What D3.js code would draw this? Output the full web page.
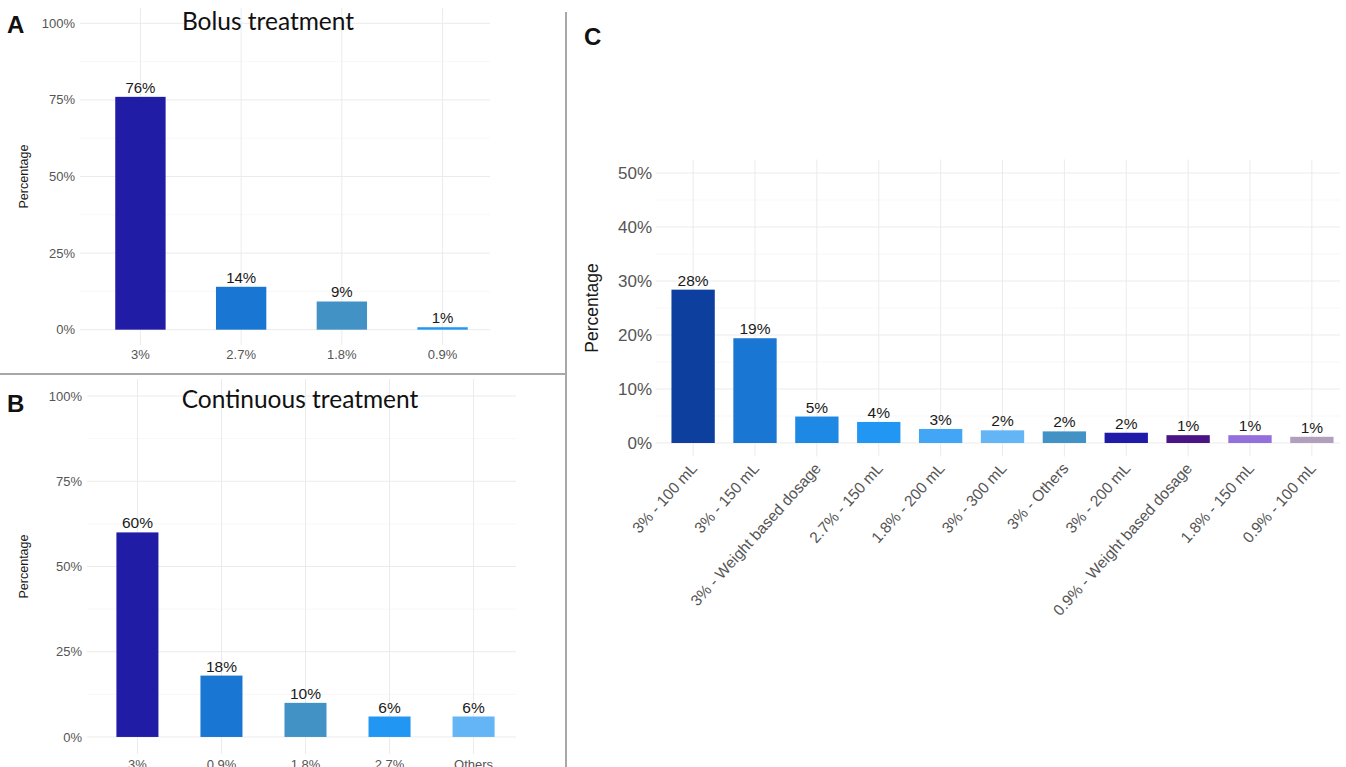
<!DOCTYPE html>
<html>
<head>
<meta charset="utf-8">
<script src="https://cdn.jsdelivr.net/npm/d3@7"></script>
<style>
  body { margin: 0; background: #fff; }
  svg { display: block; font-family: "Liberation Sans", Arial, sans-serif; }
</style>
</head>
<body>
<div id="chart"></div>
<script>
// ---- data ----
const bolusCats = ["3%", "2.7%", "1.8%", "0.9%"];
const bolusVals = [76, 14, 9.2, 0.8];
const bolusColors = ["#211ca6", "#1976d2", "#4292c6", "#2196f3"];

const contCats = ["3%", "0.9%", "1.8%", "2.7%", "Others"];
const contVals = [60, 18, 10, 6, 6];
const contColors = ["#211ca6", "#1976d2", "#4292c6", "#2196f3", "#64b5f6"];

const volCats = ["3% - 100 mL", "3% - 150 mL", "3% - Weight based dosage", "2.7% - 150 mL",
  "1.8% - 200 mL", "3% - 300 mL", "3% - Others", "3% - 200 mL",
  "0.9% - Weight based dosage", "1.8% - 150 mL", "0.9% - 100 mL"];
const volVals = [28.4, 19.4, 4.9, 3.9, 2.6, 2.35, 2.15, 1.9, 1.45, 1.45, 1.15];
const volColors = ["#0d3f9f", "#1976d2", "#1e88e5", "#2196f3", "#42a5f5", "#64b5f6",
  "#4292c6", "#1f1aa8", "#4a1486", "#9370db", "#b0a0be"];

const ticksAB = [0, 25, 50, 75, 100];
const minorAB = [12.5, 37.5, 62.5, 87.5];
const ticksC = [0, 10, 20, 30, 40, 50];
const minorC = [5, 15, 25, 35, 45];

const W = 1346, H = 767;

const svg = d3.select("#chart")
  .append("svg")
  .attr("width", W)
  .attr("height", H);

// one ggplot-like panel
function drawPanel(p) {
  const g = svg.append("g");

  const x = d3.scaleBand()
    .domain(p.cats)
    .range([p.left, p.right])
    .paddingInner(0)
    .paddingOuter(0.1);

  const y = d3.scaleLinear()
    .domain(p.yDomain)
    .range([p.bottom, p.top]);

  const gridRight = p.gridRight || p.right;

  // grid
  g.append("g").selectAll("line")
    .data(p.minor)
    .join("line")
    .attr("x1", p.left).attr("x2", gridRight)
    .attr("y1", d => y(d)).attr("y2", d => y(d))
    .attr("stroke", "#f3f3f3").attr("stroke-width", 0.7);
  g.append("g").selectAll("line")
    .data(p.ticks)
    .join("line")
    .attr("x1", p.left).attr("x2", gridRight)
    .attr("y1", d => y(d)).attr("y2", d => y(d))
    .attr("stroke", "#ebebeb").attr("stroke-width", 1);
  g.append("g").selectAll("line")
    .data(p.cats)
    .join("line")
    .attr("x1", d => x(d) + x.bandwidth() / 2).attr("x2", d => x(d) + x.bandwidth() / 2)
    .attr("y1", p.top).attr("y2", p.bottom)
    .attr("stroke", "#ebebeb").attr("stroke-width", 1);

  // y tick labels
  g.append("g").selectAll("text")
    .data(p.ticks)
    .join("text")
    .attr("x", p.left - p.tickGap)
    .attr("y", d => y(d))
    .attr("dy", "0.35em")
    .attr("text-anchor", "end")
    .attr("font-size", p.tickSize)
    .attr("fill", "#555")
    .text(d => d + "%");

  // bars
  const bw = x.bandwidth() * p.barWidth;
  g.append("g").selectAll("rect")
    .data(p.vals)
    .join("rect")
    .attr("x", (d, i) => x(p.cats[i]) + (x.bandwidth() - bw) / 2)
    .attr("y", d => y(d))
    .attr("width", bw)
    .attr("height", d => y(0) - y(d))
    .attr("fill", (d, i) => p.colors[i]);

  // value labels
  g.append("g").selectAll("text")
    .data(p.vals)
    .join("text")
    .attr("x", (d, i) => x(p.cats[i]) + x.bandwidth() / 2)
    .attr("y", d => y(d) - 4)
    .attr("text-anchor", "middle")
    .attr("font-size", p.valSize)
    .attr("fill", "#1a1a1a")
    .text(d => Math.round(d) + "%");

  // x tick labels
  const xl = g.append("g").selectAll("text")
    .data(p.cats)
    .join("text")
    .attr("font-size", p.xSize)
    .attr("fill", "#555")
    .text(d => d);
  if (p.rotate) {
    xl.attr("text-anchor", "end")
      .attr("transform", d => `translate(${x(d) + x.bandwidth() / 2 + 5},${y(0) + 26}) rotate(-48)`);
  } else {
    xl.attr("text-anchor", "middle")
      .attr("x", d => x(d) + x.bandwidth() / 2)
      .attr("y", y(0) + p.xGap);
  }

  // y axis title
  g.append("text")
    .attr("transform", `translate(${p.yTitleX},${y((p.yDomain[0] + p.yDomain[1]) / 2)}) rotate(-90)`)
    .attr("text-anchor", "middle")
    .attr("font-size", p.yTitleSize)
    .attr("fill", "#1a1a1a")
    .text("Percentage");

  // panel title
  if (p.title) {
    g.append("text")
      .attr("x", p.titleX)
      .attr("y", p.titleY)
      .attr("text-anchor", "middle")
      .attr("font-family", "Lato, 'Open Sans', sans-serif")
      .attr("font-size", 24.5)
      .attr("fill", "#111")
      .text(p.title);
  }

  // panel letter
  g.append("text")
    .attr("x", p.letterX)
    .attr("y", p.letterY)
    .attr("font-size", 24)
    .attr("font-weight", "bold")
    .attr("fill", "#111")
    .text(p.letter);
}

drawPanel({
  cats: bolusCats, vals: bolusVals, colors: bolusColors,
  ticks: ticksAB, minor: minorAB, yDomain: [-5, 105],
  left: 80, right: 503, gridRight: 490, top: 8, bottom: 345,
  barWidth: 0.5, tickSize: 13, tickGap: 5, valSize: 15, xSize: 13, xGap: 29,
  yTitleX: 28, yTitleSize: 12.5,
  title: "Bolus treatment", titleX: 268, titleY: 30,
  letter: "A", letterX: 7, letterY: 33
});

drawPanel({
  cats: contCats, vals: contVals, colors: contColors,
  ticks: ticksAB, minor: minorAB, yDomain: [-5, 105],
  left: 87, right: 524, gridRight: 516, top: 379, bottom: 754,
  barWidth: 0.5, tickSize: 13, tickGap: 5, valSize: 15.5, xSize: 13, xGap: 32,
  yTitleX: 28, yTitleSize: 12.5,
  title: "Continuous treatment", titleX: 300, titleY: 408,
  letter: "B", letterX: 7, letterY: 412
});

drawPanel({
  cats: volCats, vals: volVals, colors: volColors,
  ticks: ticksC, minor: minorC, yDomain: [-2.5, 52.5],
  left: 656, right: 1349, gridRight: 1340, top: 159.5, bottom: 456.5,
  barWidth: 0.7, tickSize: 17, tickGap: 4, valSize: 15.5, xSize: 15.5,
  rotate: true,
  yTitleX: 598, yTitleSize: 17.5,
  letter: "C", letterX: 584, letterY: 45
});

// separators between panels
svg.append("line")
  .attr("x1", 0).attr("x2", 566).attr("y1", 374).attr("y2", 374)
  .attr("stroke", "#a8a8a8").attr("stroke-width", 2);
svg.append("line")
  .attr("x1", 566).attr("x2", 566).attr("y1", 12).attr("y2", H)
  .attr("stroke", "#a8a8a8").attr("stroke-width", 2);
</script>
</body>
</html>
